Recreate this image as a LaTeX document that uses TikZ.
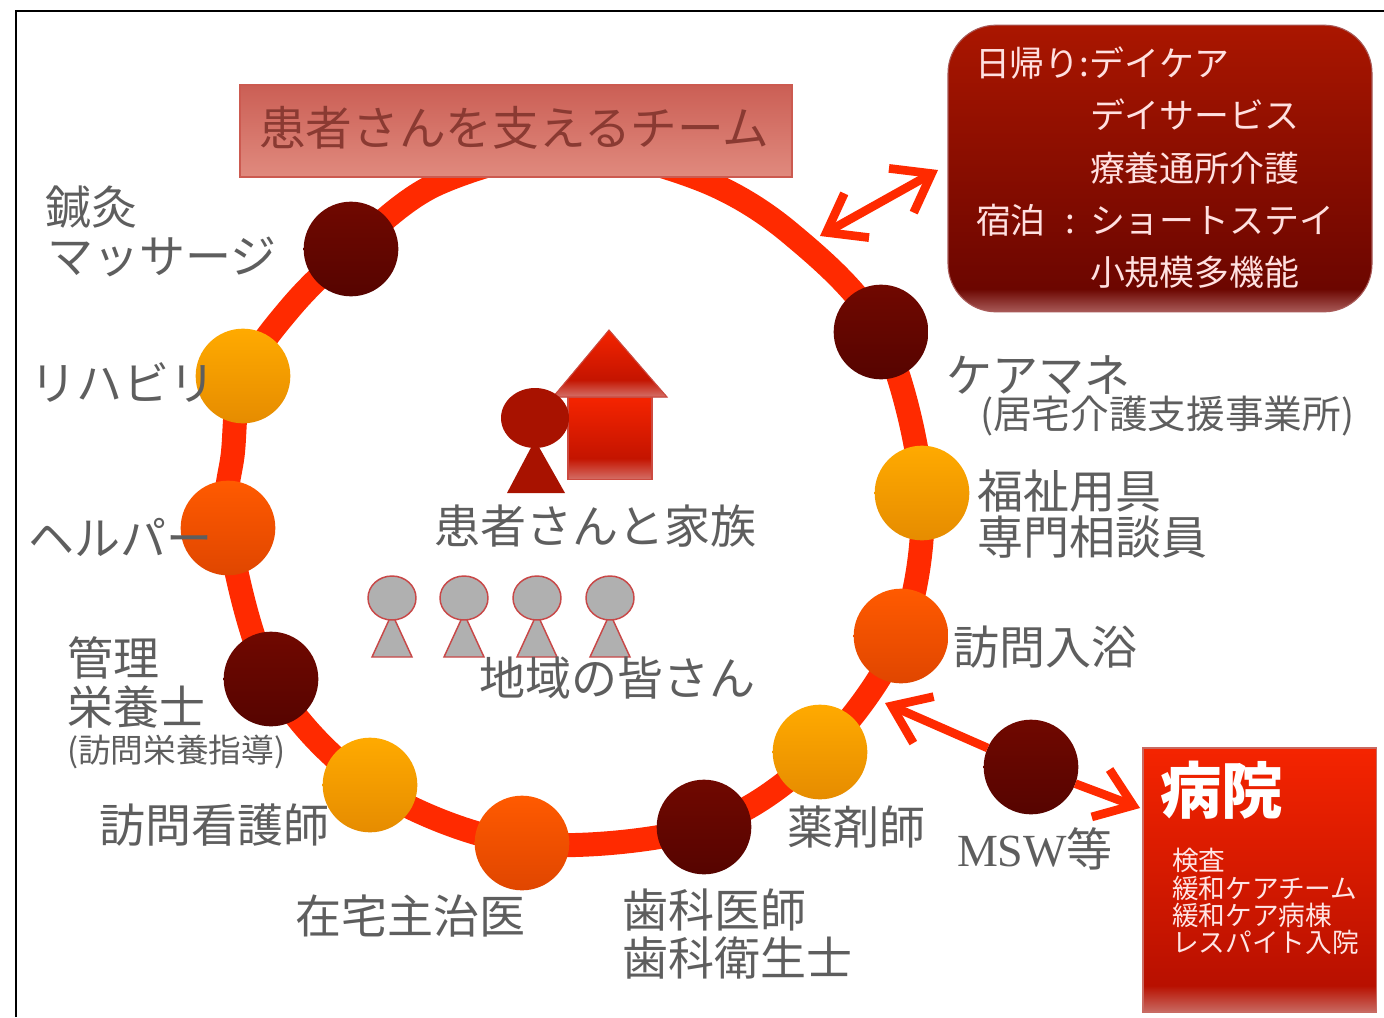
\documentclass[tikz,border=0pt]{standalone}
\usepackage{fontspec}
\setmainfont{Noto Sans CJK JP}
\newfontfamily\latinfont{Liberation Serif}
\usetikzlibrary{arrows.meta,shapes.geometric,backgrounds}
\definecolor{ringred}{HTML}{FF2A00}
\definecolor{labelgray}{HTML}{5E5E5E}
\definecolor{headred}{HTML}{A81200}
\definecolor{pplline}{HTML}{C84848}
\definecolor{pplfill}{HTML}{B0B0B0}
\definecolor{panelpink}{HTML}{A85A58}
\definecolor{panellow}{HTML}{6C0600}
\definecolor{paneltop}{HTML}{AA1600}
\definecolor{hpink}{HTML}{C86A62}
\definecolor{hlow}{HTML}{B81000}
\definecolor{htop}{HTML}{F52400}
\definecolor{darktop}{HTML}{700800}
\definecolor{darkbot}{HTML}{560400}
\definecolor{ambertop}{HTML}{FFAA00}
\definecolor{amberbot}{HTML}{E68C00}
\definecolor{orangetop}{HTML}{FF5A00}
\definecolor{orangebot}{HTML}{E04600}
\definecolor{titletop}{HTML}{CB5F55}
\definecolor{titlebot}{HTML}{E08A7E}
\definecolor{titleline}{HTML}{CC5A50}
\definecolor{titleink}{HTML}{8A3A32}
\definecolor{houseline}{HTML}{CC4A40}
\definecolor{housebot}{HTML}{D47068}
\pgfdeclareverticalshading{panelshade}{100bp}{color(0bp)=(panelpink);color(25bp)=(panelpink);color(29bp)=(panellow);color(75bp)=(paneltop);color(100bp)=(paneltop)}
\pgfdeclareverticalshading{hospshade}{100bp}{color(0bp)=(hpink);color(25bp)=(hpink);color(30bp)=(hlow);color(75bp)=(htop);color(100bp)=(htop)}
\pgfdeclareverticalshading{houseshade}{100bp}{color(0bp)=(housebot);color(25bp)=(housebot);color(38bp)=(hlow!80!htop);color(75bp)=(htop);color(100bp)=(htop)}
\tikzset{
  every node/.style={inner sep=0pt,outer sep=0pt},
  memberdark/.style={circle,minimum size=71pt,top color=darktop,bottom color=darkbot},
  memberamber/.style={circle,minimum size=71pt,top color=ambertop,bottom color=amberbot},
  memberorange/.style={circle,minimum size=71pt,top color=orangetop,bottom color=orangebot},
  lab/.style={anchor=west,text=labelgray,font=\fontsize{34.5}{36}\selectfont},
  labsmall/.style={lab,font=\fontsize{24.5}{26}\selectfont},
  labmid/.style={lab,font=\fontsize{29}{31}\selectfont},
  boxtext/.style={anchor=west,text=white!88!red,font=\fontsize{26.2}{28}\selectfont},
  hosptext/.style={anchor=west,text=white!90!red,font=\fontsize{20}{22}\selectfont},
  bigarrow/.style={draw=ringred,line width=6.5pt,{Straight Barb[length=26pt,width=38pt]}-{Straight Barb[length=26pt,width=38pt]}},
  onearrow/.style={draw=ringred,line width=6.5pt,-{Straight Barb[length=26pt,width=38pt]}},
  person/.style={fill=pplfill,draw=pplline,line width=1.1pt},
}
\begin{document}
\begin{tikzpicture}[x=0.75pt,y=-0.75pt]
\useasboundingbox (0,0) rectangle (1384,1017);
% team members
\node[memberdark]   (n1)  at (351,249) {};
\node[memberdark]   (n2)  at (881,332) {};
\node[memberamber]  (n3)  at (922,493) {};
\node[memberorange] (n4)  at (901,636) {};
\node[memberamber]  (n5)  at (820,752) {};
\node[memberdark]   (n6)  at (704,827) {};
\node[memberorange] (n7)  at (522,843) {};
\node[memberamber]  (n8)  at (370,785) {};
\node[memberdark]   (n9)  at (271,679) {};
\node[memberorange] (n10) at (228,528) {};
\node[memberamber]  (n11) at (243,376) {};
\coordinate (t1) at (437,184);
\coordinate (t2) at (570,150);
\coordinate (t3) at (697,178);
\coordinate (t4) at (790,233);
\coordinate (t5) at (233,452);
\coordinate (t6) at (292,306);
\begin{scope}[on background layer]
  \fill[white] (0,0) rectangle (1384,1017);
  \draw[ringred,line width=18pt] plot[smooth cycle,tension=0.55] coordinates
    {(n1) (t1) (t2) (t3) (t4) (n2) (n3) (n4) (n5) (n6) (n7) (n8) (n9) (n10) (t5) (n11) (t6)};
  \draw[black,line width=1.5pt] (16,1017) -- (16,11) -- (1384,11);
\end{scope}
% title
\node[rectangle,draw=titleline,line width=1pt,minimum width=414pt,minimum height=69pt,top color=titletop,bottom color=titlebot] (title) at (516,131) {};
\node[anchor=west,text=titleink,font=\fontsize{35}{37}\selectfont] (titletext) at (259,128) {患者さんを支えるチーム};
% day-care panel
\node[rectangle,rounded corners=36pt,draw=panelpink,line width=0.8pt,minimum width=318pt,minimum height=215pt,shading=panelshade] (daycare) at (1160,168.5) {};
\node[boxtext] (d1) at (975,63)  {\makebox[86.25pt][l]{日帰り:}デイケア};
\node[boxtext] (d2) at (1090,115) {デイサービス};
\node[boxtext] (d3) at (1090,168) {療養通所介護};
\node[boxtext] (d4) at (976,220) {\makebox[85.5pt][l]{宿泊\hspace{15pt}:}ショートステイ};
\node[boxtext] (d5) at (1090,272) {小規模多機能};
% hospital panel
\node[rectangle,draw=hpink,line width=1pt,minimum width=175pt,minimum height=198pt,shading=hospshade] (hosp) at (1259.5,880) {};
\node[anchor=west,text=white,font=\fontsize{46}{48}\selectfont\bfseries] (h0) at (1160,790) {病院};
\node[hosptext] (h1) at (1172,860) {検査};
\node[hosptext] (h2) at (1172,888) {緩和ケアチーム};
\node[hosptext] (h3) at (1172,915) {緩和ケア病棟};
\node[hosptext] (h4) at (1172,942) {レスパイト入院};
% arrows
\coordinate (a1) at (820,236);
\coordinate (a2) at (938,170);
\draw[bigarrow] (a1) -- (a2);
\node[memberdark] (msw) at (1031,767) {};
\coordinate (a3) at (885,703);
\coordinate (a4) at (1140,808);
\draw[onearrow] (msw) -- (a3);
\draw[onearrow] (msw) -- (a4);
% house and patient
\fill[draw=houseline,line width=0.8pt,shading=houseshade] (609,330) -- (667,397) -- (553,397) -- cycle;
\node[rectangle,draw=houseline,line width=0.8pt,minimum width=63pt,minimum height=62pt,shading=houseshade] (houseBody) at (610,438.5) {};
\fill[headred] (535,418) ellipse [x radius=34,y radius=30];
\fill[headred] (535,440) -- (565,493) -- (507,493) -- cycle;
% neighbours
\foreach \px in {392,464,537,610}{
  \filldraw[person] (\px,598) ellipse [x radius=24,y radius=22];
  \filldraw[person] (\px-3,620) -- (\px+3,620) -- (\px+20,657) -- (\px-20,657) -- cycle;
}
% labels
\node[lab] (l1) at (45,207) {鍼灸};
\node[lab] (l2) at (47,257) {マッサージ};
\node[lab] (l3) at (31,382) {リハビリ};
\node[lab] (l4) at (28,537) {ヘルパー};
\node[lab] (l5) at (67,658) {管理};
\node[lab] (l6) at (67,707) {栄養士};
\node[labsmall] (l7) at (67,752) {(訪問栄養指導)};
\node[lab] (l8) at (99,825) {訪問看護師};
\node[lab] (l9) at (295,916) {在宅主治医};
\node[lab] (l10) at (622,910) {歯科医師};
\node[lab] (l11) at (622,958) {歯科衛生士};
\node[lab] (l12) at (787,827) {薬剤師};
\node[lab] (l13) at (957,849) {{\latinfont MSW}等};
\node[lab] (l14) at (946,375) {ケアマネ};
\node[labmid] (l15) at (980,416) {(居宅介護支援事業所)};
\node[lab] (l16) at (977,491) {福祉用具};
\node[lab] (l17) at (977,537) {専門相談員};
\node[lab] (l18) at (953,647) {訪問入浴};
\node[lab] (l19) at (434,526) {患者さんと家族};
\node[lab] (l20) at (479,678) {地域の皆さん};
\end{tikzpicture}
\end{document}
